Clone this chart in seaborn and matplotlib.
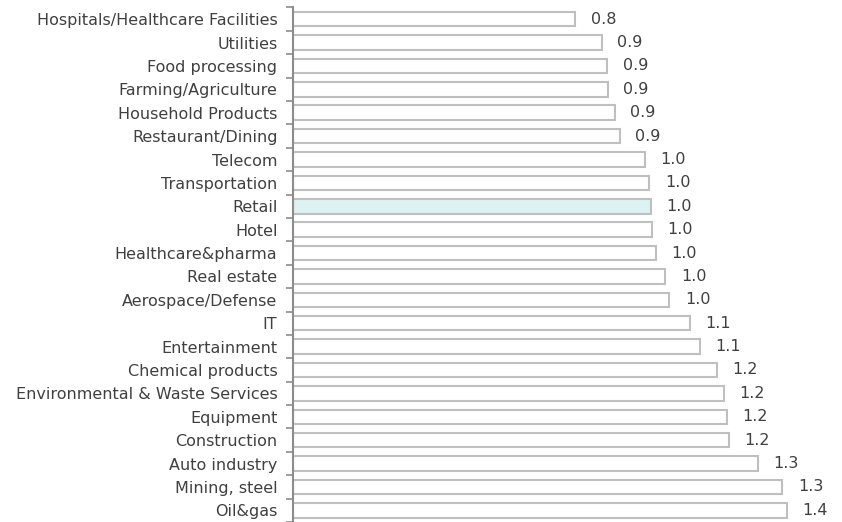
import matplotlib
matplotlib.use("Agg")
import matplotlib.pyplot as plt
import seaborn as sns
import pandas as pd
import numpy as np

industries = ["Hospitals/Healthcare Facilities", "Utilities", "Food processing",
              "Farming/Agriculture", "Household Products", "Restaurant/Dining",
              "Telecom", "Transportation", "Retail", "Hotel", "Healthcare&pharma",
              "Real estate", "Aerospace/Defense", "IT", "Entertainment",
              "Chemical products", "Environmental & Waste Services", "Equipment",
              "Construction", "Auto industry", "Mining, steel", "Oil&gas"]
values = [0.778, 0.851, 0.866, 0.867, 0.887, 0.901, 0.969, 0.982, 0.986, 0.989,
          1.000, 1.026, 1.037, 1.093, 1.121, 1.168, 1.186, 1.195, 1.201, 1.280,
          1.348, 1.360]
highlight = "Retail"

df = pd.DataFrame({"industry": industries, "value": values})
colors = {c: ("#daf5f7" if c == highlight else "white") for c in industries}

sns.set_style("white")
plt.rcParams['font.family'] = ['DejaVu Sans']
txt = "#404040"

fig = plt.figure(figsize=(8.42, 5.22), dpi=100)
ax = fig.add_axes([292.7 / 842, 0, 545 / 842, 514.5 / 522])

sns.barplot(data=df, y="industry", x="value", hue="industry", palette=colors,
            legend=False, width=0.62, edgecolor="#bfbfbf", linewidth=1.5,
            orient="h", ax=ax)

for cont in ax.containers:
    ax.bar_label(cont, fmt="%.1f", padding=11, color=txt, fontsize=11.5)

ax.set_xlim(0, 1.5)
ax.set_ylim(len(industries) - 0.5, -0.5)
ax.set_xlabel("")
ax.set_ylabel("")
ax.set_xticks([])

sns.despine(ax=ax, top=True, right=True, bottom=True)
ax.spines["left"].set_color("#8c8c8c")
ax.spines["left"].set_linewidth(1.5)

ax.set_yticks(np.arange(len(industries)))
ax.set_yticklabels(industries, color=txt, fontsize=11.5)
ax.tick_params(axis="y", which="major", length=0, pad=11)
ax.set_yticks(np.arange(len(industries) + 1) - 0.5, minor=True)
ax.tick_params(axis="y", which="minor", length=5, width=1.2, color="#8c8c8c",
               direction="out", left=True)

fig.savefig("out.png", dpi=100)
